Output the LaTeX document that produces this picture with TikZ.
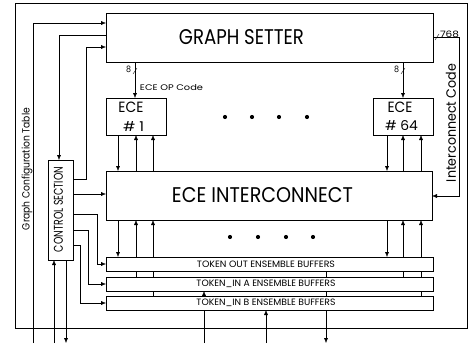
\documentclass[tikz,border=0pt]{standalone}
\usepackage{fontspec}
\setmainfont{Poppins}
\usetikzlibrary{arrows.meta}
\pgfdeclarelayer{bg}
\pgfsetlayers{bg,main}
\newcommand{\fitbox}[3]{\resizebox{#1pt}{#2pt}{#3}}
\begin{document}
\begin{tikzpicture}[x=1pt,y=-1pt,line width=0.7pt,
  box/.style={draw,fill=white,inner sep=0pt,outer sep=0pt,anchor=north west},
  lbl/.style={inner sep=0pt,outer sep=0pt},
  arr/.style={-{Latex[length=5pt,width=4pt]}},
  dotc/.style={fill,circle,inner sep=0pt,minimum size=4.2pt}]
\useasboundingbox (0,0) rectangle (472,351);

% frame
\node[draw,inner sep=0pt,outer sep=0pt,anchor=north west,minimum width=452pt,minimum height=325pt] (frame) at (15,3) {};

% boxes
\node[box,minimum width=327pt,minimum height=49pt] (gs) at (106,13) {};
\node[box,minimum width=60pt,minimum height=37pt] (e1) at (106,98) {};
\node[box,minimum width=60pt,minimum height=37pt] (e64) at (373,98) {};
\node[box,minimum width=326pt,minimum height=49pt] (ic) at (106,171) {};
\node[box,minimum width=327pt,minimum height=14pt] (tout) at (106,257) {};
\node[box,minimum width=327pt,minimum height=14pt] (tina) at (106,277) {};
\node[box,minimum width=327pt,minimum height=14pt] (tinb) at (106,296) {};
\node[box,minimum width=25pt,minimum height=100pt] (cs) at (48,160) {};

% texts
\node[lbl] (tgs) at (241.5,37.5) {\fitbox{125}{15}{GRAPH SETTER}};
\node[lbl] (tic) at (262.5,195.5) {\fitbox{181}{15}{ECE INTERCONNECT}};
\node[lbl] (te1a) at (131,107) {\fitbox{25}{10.5}{ECE}};
\node[lbl] (te1b) at (133.5,126) {\fitbox{21}{10}{\# 1}};
\node[lbl] (te64a) at (400,107) {\fitbox{25}{10.5}{ECE}};
\node[lbl] (te64b) at (401.5,126) {\fitbox{33}{10}{\# 64}};
\node[lbl] (top) at (171.5,88) {\fitbox{63}{6}{ECE OP Code}};
\node[lbl] (t8a) at (128.5,69.5) {\fitbox{5}{6.5}{8}};
\node[lbl] (t8b) at (396.5,69.5) {\fitbox{5}{6.5}{8}};
\node[lbl] (t768) at (449.5,34) {\fitbox{19}{6.5}{768}};
\node[lbl,rotate=90] (tcode) at (451,123) {\fitbox{118}{10}{Interconnect Code}};
\node[lbl,rotate=90] (tgct) at (27,169) {\fitbox{122}{8}{Graph Configuration Table}};
\node[lbl,rotate=90] (tcs) at (58.5,209.5) {\fitbox{85}{9}{CONTROL SECTION}};
\node[lbl] (tto) at (266,264) {\fitbox{138}{6.5}{TOKEN OUT ENSEMBLE BUFFERS}};
\node[lbl] (tta) at (266,284) {\fitbox{139}{6.5}{TOKEN\_IN A ENSEMBLE BUFFERS}};
\node[lbl] (ttb) at (266,303) {\fitbox{139}{6.5}{TOKEN\_IN B ENSEMBLE BUFFERS}};

% dots
\foreach \i/\x in {1/225,2/252,3/279,4/307} \node[dotc] (du\i) at (\x,117) {};
\foreach \i/\x in {1/230,2/258,3/286,4/313} \node[dotc] (dl\i) at (\x,237) {};

% coordinates
\coordinate (xA) at (33,0);
\coordinate (xB) at (59,0);
\coordinate (xC) at (86,0);
\coordinate (xD) at (97,0);
\coordinate (xE) at (88,0);
\coordinate (xF) at (80,0);
\coordinate (xG) at (54,0);
\coordinate (xH) at (66,0);
\coordinate (xI) at (204,0);
\coordinate (xJ) at (266,0);
\coordinate (xK) at (326,0);
\coordinate (xR) at (459,0);
\coordinate (g1) at (135,0);
\coordinate (b1) at (118,0);
\coordinate (b2) at (136,0);
\coordinate (b3) at (153,0);
\coordinate (b4) at (387,0);
\coordinate (b5) at (403,0);
\coordinate (b6) at (421,0);
\coordinate (yA) at (0,23);
\coordinate (yB) at (0,35);
\coordinate (yC) at (0,47);
\coordinate (yD) at (0,179);
\coordinate (yE) at (0,194);
\coordinate (yF) at (0,214);
\coordinate (yG) at (0,230);
\coordinate (yH) at (0,245);
\coordinate (yI) at (0,37);
\coordinate (yJ) at (0,196);
\coordinate (bot) at (0,343);
\coordinate (s1) at (135,71);
\coordinate (s2) at (403,71);
\coordinate (s3) at (437,37);

\begin{pgfonlayer}{bg}
% left side
\draw[arr] (xA |- bot) |- (gs.west |- yA);
\draw[arr] (gs.west |- yB) -| (cs.north -| xB);
\draw[arr] (cs.east |- yD) -| (xC |- yC) -- (gs.west |- yC);
\draw[arr] (cs.east |- yE) -- (ic.west |- yE);
\draw[arr] (cs.east |- yF) -| (xD |- tout.west) -- (tout.west);
\draw[arr] (cs.east |- yG) -| (xE |- tina.west) -- (tina.west);
\draw[arr] (cs.east |- yH) -| (xF |- tinb.west) -- (tinb.west);
\draw[arr] (xG |- bot) -- (cs.south -| xG);
\draw[arr] (cs.south -| xH) -- (xH |- bot);
% bottom
\draw[arr] (xI |- bot) -- (tina.south -| xI);
\draw[arr] (xJ |- bot) -- (tinb.south -| xJ);
\draw[arr] (tout.south -| xK) -- (xK |- bot);
% graph setter to ECEs
\draw[arr] (gs.south -| g1) -- (e1.north -| g1);
\draw[arr] (gs.south -| b5) -- (e64.north -| b5);
\draw (s1) +(-2,3) -- +(2,-3);
\draw (s2) +(-2,3) -- +(2,-3);
% interconnect code
\draw[arr] (gs.east |- yI) -| (xR |- yJ) -- (ic.east |- yJ);
\draw (s3) +(-2,3) -- +(2,-3);
% ECEs to interconnect
\draw[arr] (e1.south -| b1) -- (ic.north -| b1);
\draw[arr] (ic.north -| b2) -- (e1.south -| b2);
\draw[arr] (ic.north -| b3) -- (e1.south -| b3);
\draw[arr] (e64.south -| b4) -- (ic.north -| b4);
\draw[arr] (ic.north -| b5) -- (e64.south -| b5);
\draw[arr] (ic.north -| b6) -- (e64.south -| b6);
% interconnect to buffers
\draw[arr] (ic.south -| b1) -- (tout.north -| b1);
\draw[arr] (tina.north -| b2) -- (ic.south -| b2);
\draw[arr] (tinb.north -| b3) -- (ic.south -| b3);
\draw[arr] (ic.south -| b4) -- (tout.north -| b4);
\draw[arr] (tina.north -| b5) -- (ic.south -| b5);
\draw[arr] (tinb.north -| b6) -- (ic.south -| b6);
\end{pgfonlayer}
\end{tikzpicture}
\end{document}
